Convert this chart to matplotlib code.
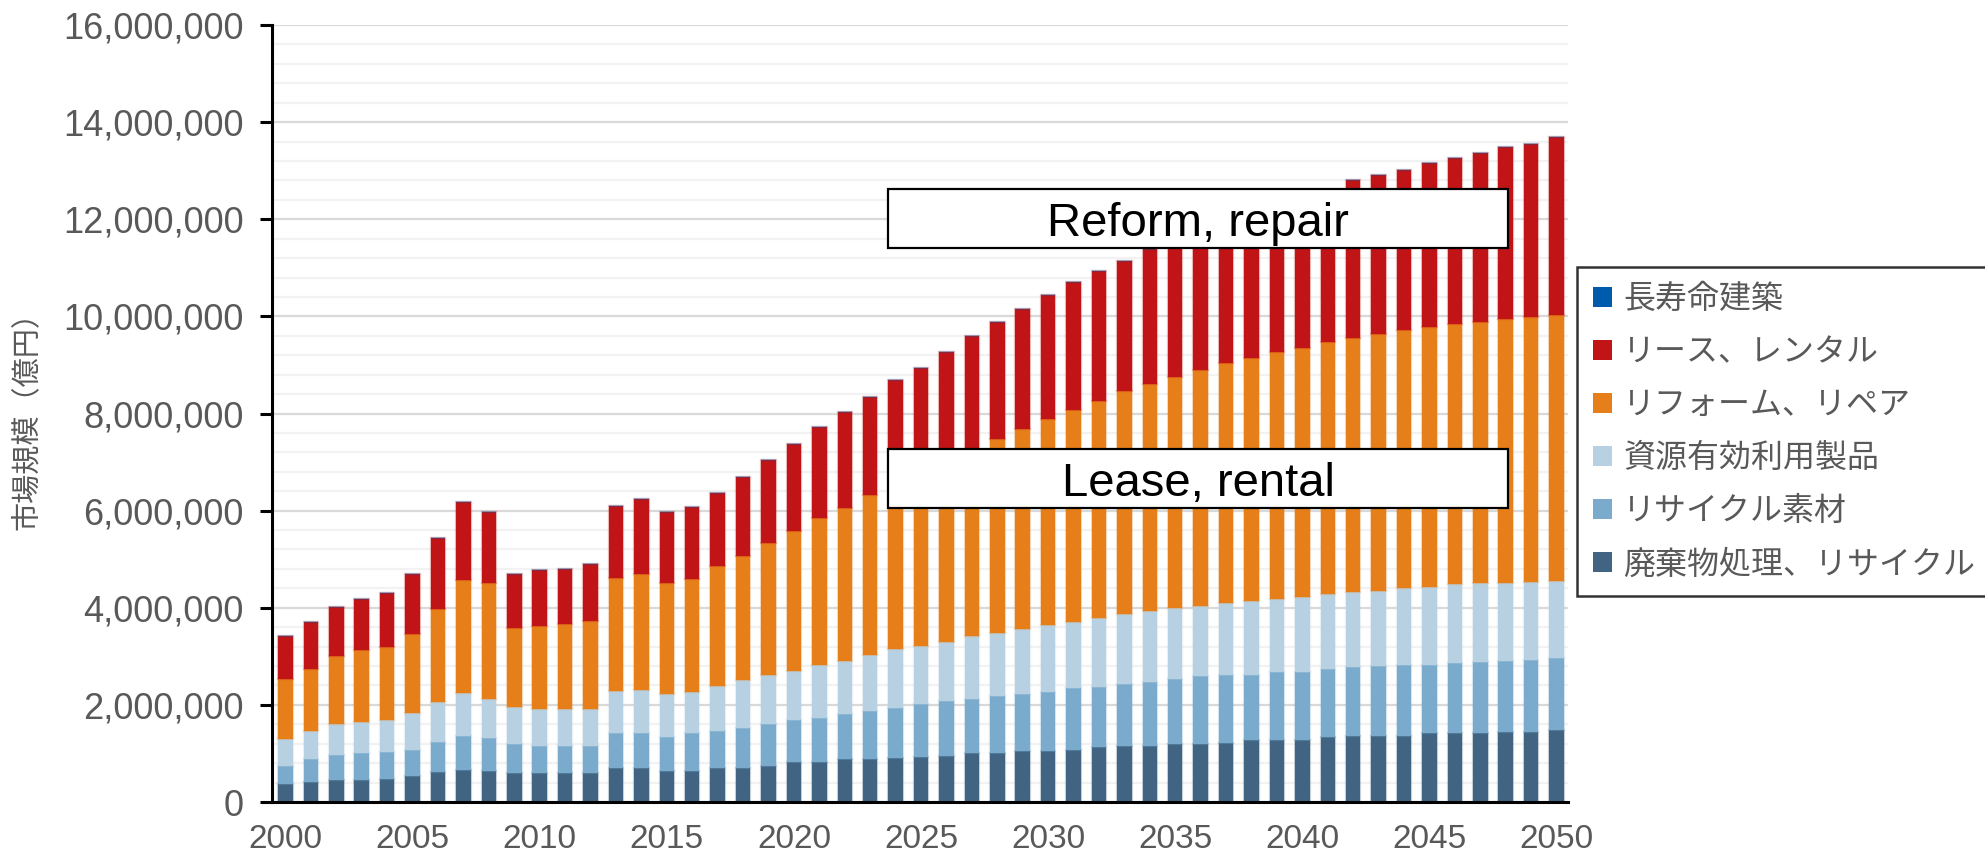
import numpy as np
import matplotlib; matplotlib.use('Agg')
from matplotlib import pyplot as plt
from matplotlib.patches import Rectangle
from matplotlib.ticker import MultipleLocator, FuncFormatter

plt.rcParams['font.family'] = ['Liberation Sans', 'Noto Sans CJK JP']

years = np.arange(2000, 2051)

# segment sizes, million 億円 (bottom to top of each bar)
waste = [0.38, 0.42, 0.46, 0.46, 0.48, 0.54, 0.61, 0.66, 0.63, 0.59,
         0.59, 0.59, 0.59, 0.69, 0.69, 0.63, 0.64, 0.71, 0.71, 0.75,
         0.83, 0.83, 0.89, 0.89, 0.90, 0.93, 0.95, 1.00, 1.00, 1.05,
         1.05, 1.07, 1.14, 1.15, 1.15, 1.20, 1.20, 1.22, 1.27, 1.27,
         1.27, 1.33, 1.36, 1.36, 1.36, 1.42, 1.42, 1.42, 1.44, 1.44, 1.48]
material = [0.37, 0.46, 0.51, 0.54, 0.54, 0.54, 0.62, 0.70, 0.69, 0.61,
            0.57, 0.57, 0.57, 0.74, 0.74, 0.71, 0.79, 0.75, 0.81, 0.86,
            0.85, 0.91, 0.92, 0.99, 1.03, 1.08, 1.12, 1.13, 1.18, 1.17,
            1.21, 1.27, 1.23, 1.27, 1.33, 1.34, 1.39, 1.39, 1.34, 1.40,
            1.40, 1.41, 1.41, 1.45, 1.47, 1.41, 1.44, 1.46, 1.46, 1.49, 1.48]
products = [0.54, 0.58, 0.63, 0.65, 0.66, 0.76, 0.82, 0.88, 0.80, 0.75,
            0.76, 0.76, 0.76, 0.85, 0.88, 0.88, 0.84, 0.93, 0.99, 1.01,
            1.02, 1.08, 1.10, 1.15, 1.22, 1.21, 1.23, 1.29, 1.29, 1.34,
            1.38, 1.36, 1.41, 1.46, 1.46, 1.45, 1.45, 1.48, 1.53, 1.52,
            1.56, 1.55, 1.55, 1.54, 1.57, 1.60, 1.62, 1.62, 1.60, 1.61, 1.60]
reform = [1.24, 1.28, 1.40, 1.47, 1.52, 1.62, 1.93, 2.33, 2.39, 1.64,
          1.71, 1.74, 1.81, 2.33, 2.39, 2.28, 2.32, 2.46, 2.56, 2.72,
          2.88, 3.03, 3.15, 3.30, 3.41, 3.57, 3.72, 3.83, 4.01, 4.13,
          4.24, 4.38, 4.48, 4.58, 4.67, 4.76, 4.86, 4.95, 5.00, 5.08,
          5.11, 5.18, 5.23, 5.29, 5.31, 5.36, 5.36, 5.39, 5.45, 5.44, 5.47]
lease = [0.89, 0.97, 1.02, 1.05, 1.11, 1.24, 1.45, 1.60, 1.47, 1.10,
         1.14, 1.14, 1.17, 1.48, 1.54, 1.47, 1.49, 1.52, 1.63, 1.70,
         1.80, 1.87, 1.97, 2.02, 2.12, 2.14, 2.25, 2.34, 2.40, 2.47,
         2.55, 2.62, 2.67, 2.68, 2.78, 2.82, 2.86, 2.91, 2.99, 3.03,
         3.11, 3.11, 3.26, 3.27, 3.31, 3.37, 3.43, 3.48, 3.53, 3.57, 3.66]
longlife = [0.0] * len(years)

labels = ['廃棄物処理、リサイクル', 'リサイクル素材', '資源有効利用製品',
          'リフォーム、リペア', 'リース、レンタル', '長寿命建築']
colors = ['#406482', '#7aaacc', '#b7d1e2', '#e67f19', '#c01416', '#005bac']
series = [waste, material, products, reform, lease, longlife]

W, H = 1985, 859
fig = plt.figure(figsize=(W / 100, H / 100), dpi=100)
ax = fig.add_axes([272 / W, 1 - 802 / H, (1568 - 272) / W, (802 - 25) / H])

bottom = np.zeros(len(years))
handles = []
for vals, col, lab in zip(series, colors, labels):
    v = np.array(vals) * 1e6
    b = ax.bar(years, v, 0.57, bottom=bottom, color=col, label=lab,
               edgecolor=matplotlib.colors.to_rgba(col, 0.3), linewidth=1.6)
    handles.append(b)
    bottom += v

ax.set_xlim(1999.47, 2050.45)
ax.set_ylim(0, 16e6)
ax.set_xticks(np.arange(2000, 2051, 5))
ax.yaxis.set_major_locator(MultipleLocator(2e6))
ax.yaxis.set_minor_locator(MultipleLocator(4e5))
ax.yaxis.set_major_formatter(FuncFormatter(lambda v, p: '{:,}'.format(int(v))))
ax.set_axisbelow(True)
ax.grid(axis='y', which='major', color='#d9d9d9', lw=1.6)
ax.grid(axis='y', which='minor', color='#f2f2f2', lw=1.6)

for s in ['top', 'right']:
    ax.spines[s].set_visible(False)
for s in ['left', 'bottom']:
    ax.spines[s].set_linewidth(2.2)
    ax.spines[s].set_color('black')
ax.tick_params(axis='y', which='major', length=8.5, width=2.2, pad=12,
               labelsize=26, labelcolor='#595959')
ax.tick_params(axis='y', which='minor', length=0)
ax.tick_params(axis='x', length=0, pad=16, labelsize=24, labelcolor='#595959')

ax.set_ylabel('市場規模（億円）', fontsize=21, color='#595959',
              family=['Noto Sans CJK JP', 'DejaVu Sans'])
ax.yaxis.set_label_coords(-0.178, 0.5)

leg = fig.legend(handles[::-1], [h.get_label() for h in handles[::-1]],
                 loc='upper left', bbox_to_anchor=(1577 / W, 1 - 267 / H),
                 borderaxespad=0, frameon=True, fancybox=False,
                 prop={'family': ['Noto Sans CJK JP', 'DejaVu Sans'], 'size': 23},
                 handlelength=0.6, handleheight=0.6, handletextpad=0.35,
                 labelspacing=0.66, borderpad=0.5, labelcolor='#595959')
leg.get_frame().set_edgecolor('black')
leg.get_frame().set_linewidth(1.8)
for h in leg.legend_handles:
    h.set_linewidth(0)

# annotation boxes over the bars
for txt, top, base in [('Reform, repair', 189, 236), ('Lease, rental', 449, 496)]:
    fig.add_artist(Rectangle((888 / W, 1 - (top + 59) / H), 620 / W, 59 / H,
                             transform=fig.transFigure, facecolor='white',
                             edgecolor='black', linewidth=1.6, zorder=5))
    fig.text(1198 / W, 1 - base / H, txt, ha='center', va='baseline',
             fontsize=34, color='black', zorder=6)

plt.savefig('out.png', dpi=100)
